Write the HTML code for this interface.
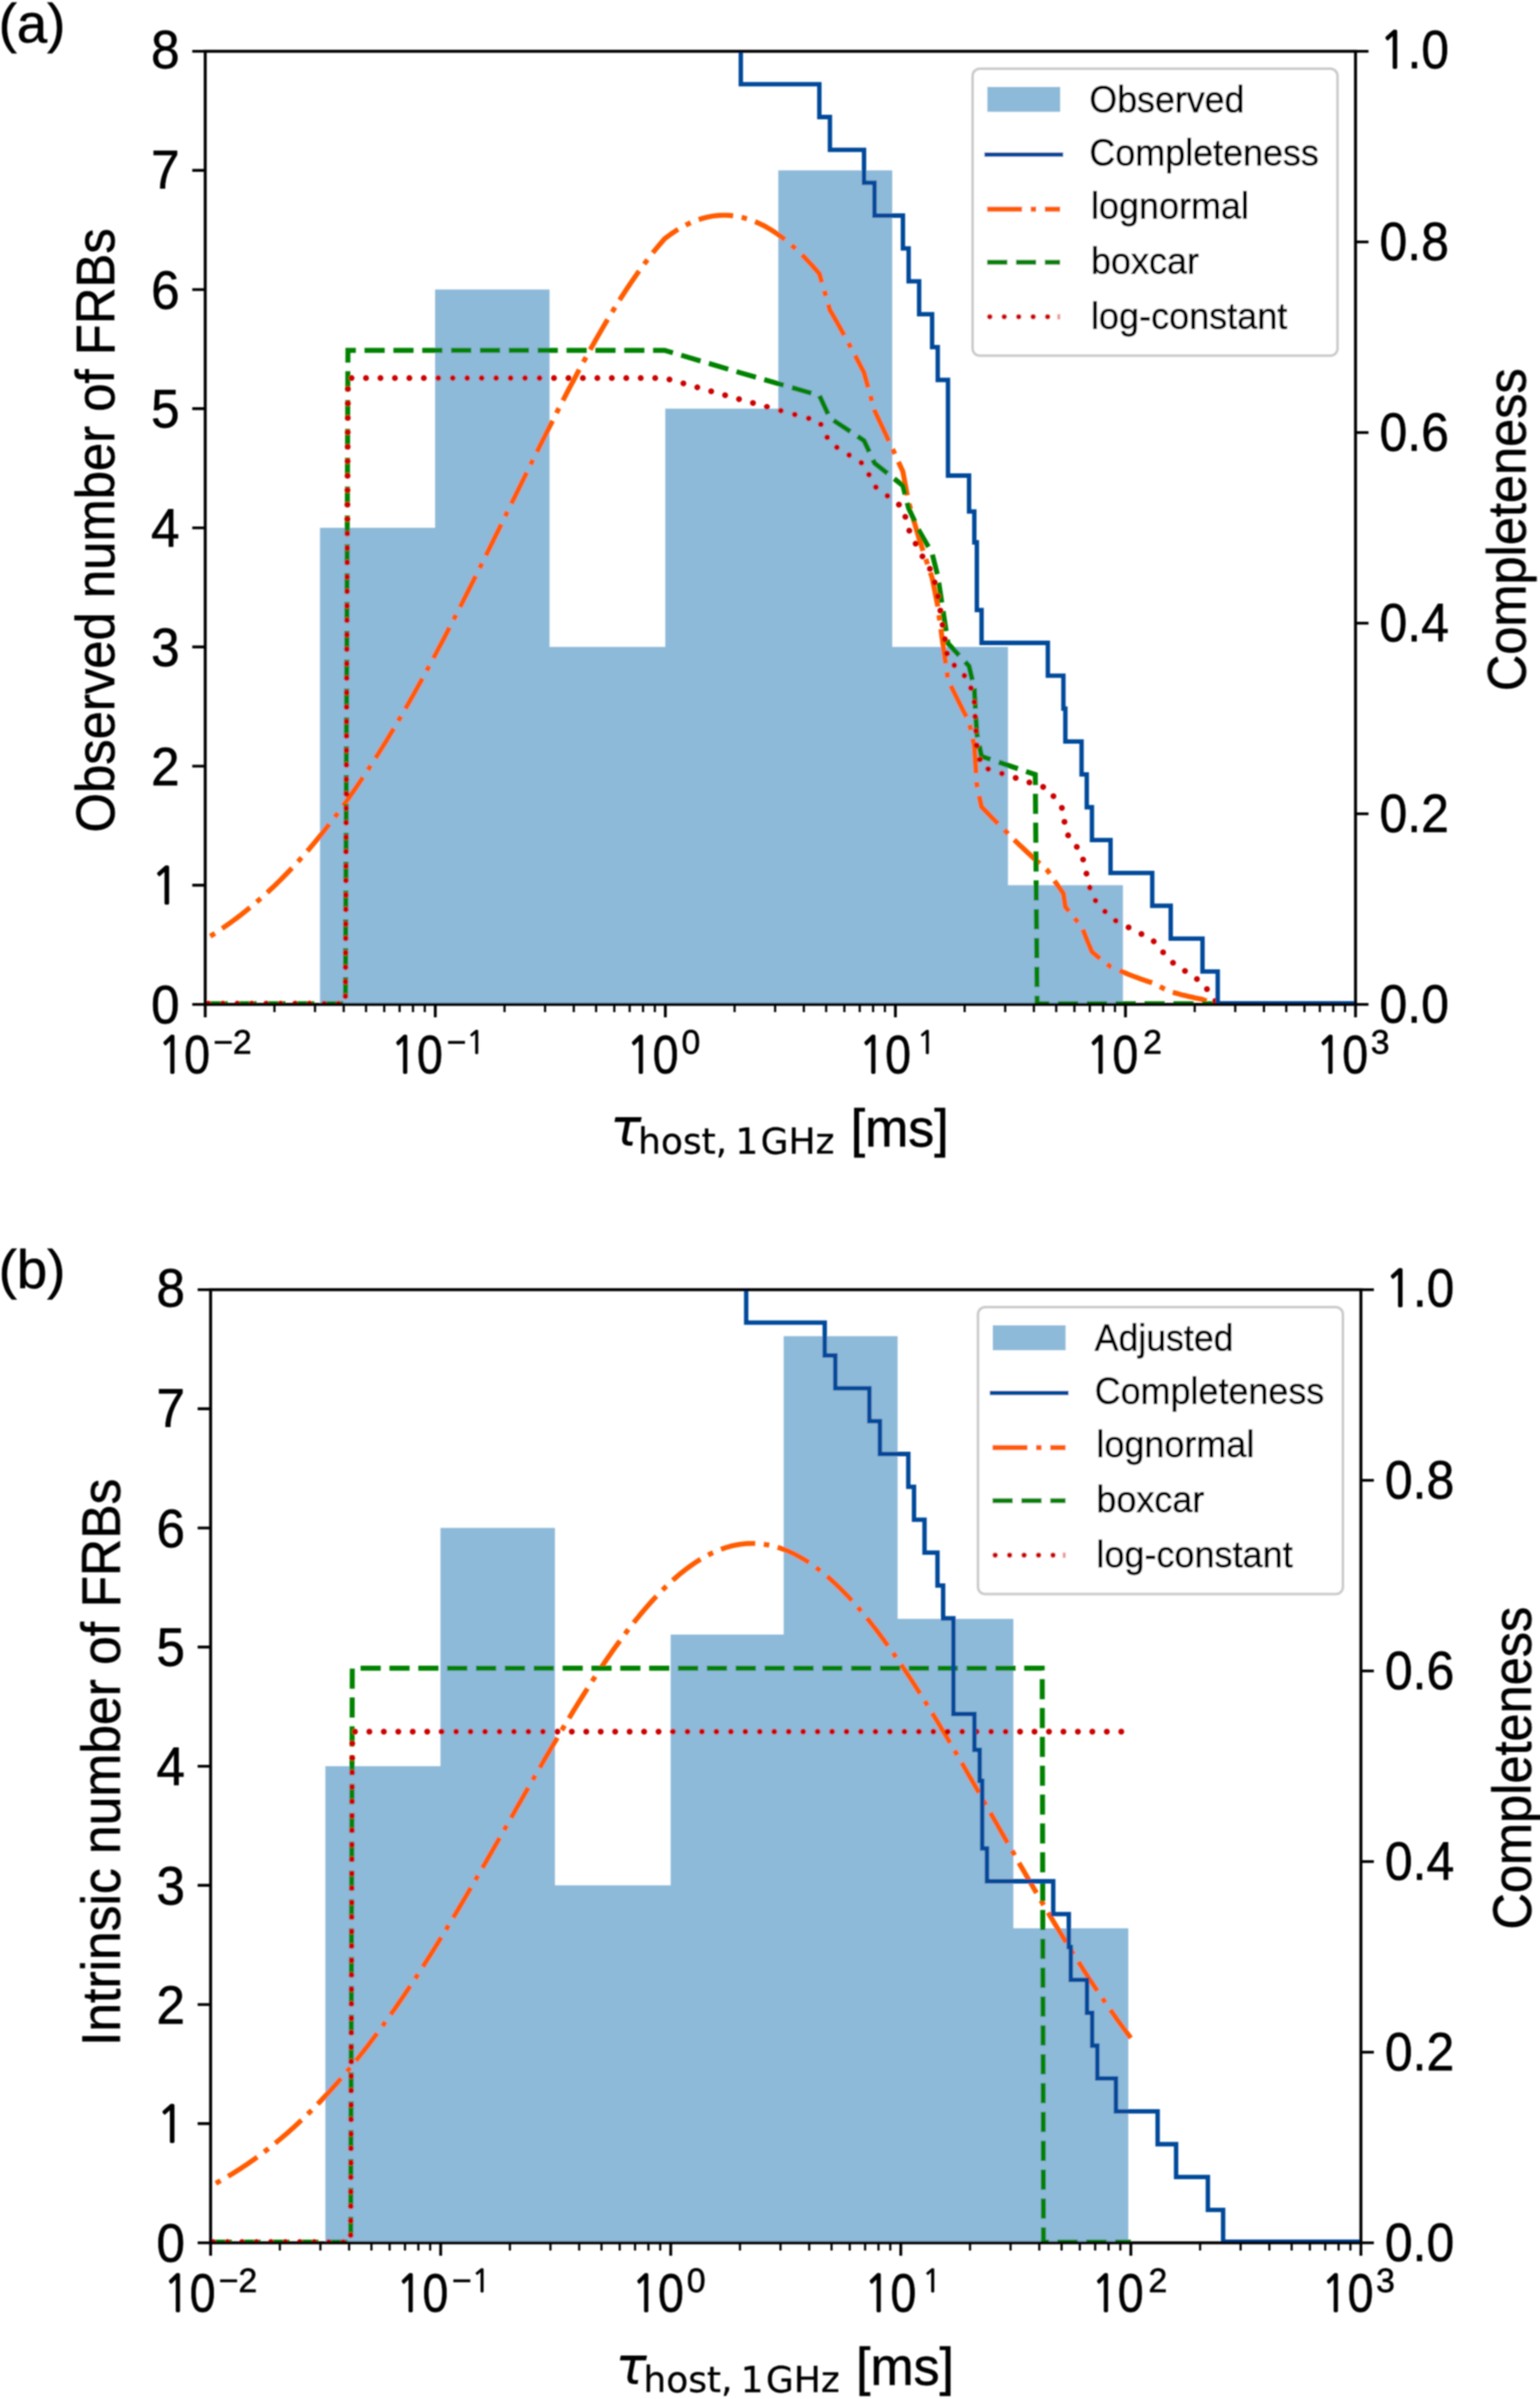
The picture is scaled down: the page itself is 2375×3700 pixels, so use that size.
<!DOCTYPE html>
<html><head><meta charset="utf-8"><title>Figure</title>
<style>html,body{margin:0;padding:0;background:#fff}svg{display:block}text{font-family:"Liberation Sans", sans-serif;fill:#000;stroke:#000;stroke-width:0.9px}</style>
</head><body>
<svg width="2375" height="3700" viewBox="0 0 2375 3700">
<defs><filter id="soft" x="0" y="0" width="100%" height="100%" filterUnits="userSpaceOnUse"><feGaussianBlur stdDeviation="1.3"/></filter><clipPath id="clipA"><rect x="316.5" y="79.1" width="1774.0" height="1470.0"/></clipPath></defs>
<rect width="2375" height="3700" fill="#fff"/>
<g filter="url(#soft)">
<text x="-2" y="64.5" font-size="84">(a)</text>
<text x="-2" y="1986.5" font-size="84">(b)</text>
<g>
<path d="M493.5,1549.1 L493.5,814.1 L671.0,814.1 L671.0,446.6 L847.5,446.6 L847.5,997.8 L1026.0,997.8 L1026.0,630.3 L1200.3,630.3 L1200.3,262.8 L1376.0,262.8 L1376.0,997.8 L1554.5,997.8 L1554.5,1365.3 L1731.8,1365.3 L1731.8,1549.1 Z" fill="#8EBAD9"/>
<g clip-path="url(#clipA)" fill="none" stroke-width="7.7" stroke-linejoin="miter">
<polyline points="316.5,1448.8 320.4,1446.4 324.3,1444.0 328.2,1441.5 332.2,1439.0 336.1,1436.4 340.0,1433.8 343.9,1431.1 347.8,1428.4 351.7,1425.7 355.6,1422.9 359.5,1420.0 363.5,1417.1 367.4,1414.2 371.3,1411.2 375.2,1408.1 379.1,1405.0 383.0,1401.8 386.9,1398.6 390.9,1395.4 394.8,1392.0 398.7,1388.7 402.6,1385.2 406.5,1381.7 410.4,1378.2 414.3,1374.6 418.3,1370.9 422.2,1367.2 426.1,1363.5 430.0,1359.6 433.9,1355.8 437.8,1351.8 441.7,1347.8 445.6,1343.8 449.6,1339.7 453.5,1335.5 457.4,1331.2 461.3,1327.0 465.2,1322.6 469.1,1318.2 473.0,1313.7 477.0,1309.2 480.9,1304.6 484.8,1299.9 488.7,1295.2 492.6,1290.4 496.5,1285.6 500.4,1280.7 504.3,1275.7 508.3,1270.7 512.2,1265.6 516.1,1260.5 520.0,1255.3 523.9,1250.0 527.8,1244.7 531.7,1239.3 535.7,1233.8 539.6,1228.3 543.5,1222.7 547.4,1217.1 551.3,1211.4 555.2,1205.7 559.1,1199.8 563.1,1194.0 567.0,1188.0 570.9,1182.0 574.8,1176.0 578.7,1169.9 582.6,1163.7 586.5,1157.5 590.4,1151.2 594.4,1144.9 598.3,1138.5 602.2,1132.0 606.1,1125.5 610.0,1119.0 613.9,1112.3 617.8,1105.7 621.8,1099.0 625.7,1092.2 629.6,1085.4 633.5,1078.5 637.4,1071.6 641.3,1064.6 645.2,1057.6 649.2,1050.5 653.1,1043.4 657.0,1036.2 660.9,1029.0 664.8,1021.8 668.7,1014.5 672.6,1007.2 676.5,999.8 680.5,992.4 684.4,984.9 688.3,977.4 692.2,969.9 696.1,962.3 700.0,954.8 703.9,947.1 707.9,939.5 711.8,931.8 715.7,924.1 719.6,916.3 723.5,908.6 727.4,900.8 731.3,893.0 735.2,885.1 739.2,877.3 743.1,869.4 747.0,861.5 750.9,853.6 754.8,845.7 758.7,837.7 762.6,829.8 766.6,821.8 770.5,813.9 774.4,805.9 778.3,797.9 782.2,789.9 786.1,782.0 790.0,774.0 794.0,766.0 797.9,758.0 801.8,750.1 805.7,742.1 809.6,734.2 813.5,726.2 817.4,718.3 821.3,710.4 825.3,702.5 829.2,694.6 833.1,686.8 837.0,679.0 840.9,671.2 844.8,663.4 848.7,655.7 852.7,647.9 856.6,640.3 860.5,632.6 864.4,625.0 868.3,617.4 872.2,609.9 876.1,602.4 880.0,595.0 884.0,587.6 887.9,580.2 891.8,572.9 895.7,565.7 899.6,558.5 903.5,551.3 907.4,544.3 911.4,537.2 915.3,530.3 919.2,523.4 923.1,516.6 927.0,509.8 930.9,503.1 934.8,496.5 938.8,490.0 942.7,483.5 946.6,477.1 950.5,470.8 954.4,464.6 958.3,458.4 962.2,452.4 966.1,446.4 970.1,440.5 974.0,434.7 977.9,429.0 981.8,423.4 985.7,417.9 989.6,412.5 993.5,407.2 997.5,402.0 1001.4,396.9 1005.3,391.8 1009.2,386.9 1013.1,382.1 1017.0,377.5 1020.9,372.9 1024.8,368.4 1025.0,368.2 1028.8,365.4 1032.7,362.5 1036.6,359.7 1040.5,357.1 1044.4,354.6 1048.3,352.2 1052.2,350.0 1056.2,347.9 1060.1,345.9 1064.0,344.1 1067.9,342.3 1071.8,340.7 1075.7,339.3 1079.6,338.0 1083.6,336.8 1087.5,335.7 1091.4,334.8 1095.3,334.0 1099.2,333.3 1103.1,332.8 1107.0,332.4 1110.9,332.1 1114.9,332.0 1118.8,332.0 1122.7,332.2 1126.6,332.4 1130.5,332.9 1134.4,333.4 1138.3,334.1 1142.3,334.9 1142.5,335.0 1146.2,335.8 1150.1,336.9 1154.0,338.0 1157.9,339.3 1161.8,340.8 1165.7,342.4 1169.7,344.1 1173.6,345.9 1177.5,347.8 1181.4,349.9 1185.3,352.2 1189.2,354.5 1193.1,357.0 1197.0,359.6 1201.0,362.3 1204.9,365.2 1208.8,368.1 1212.7,371.2 1216.6,374.5 1220.5,377.8 1224.4,381.3 1228.4,384.8 1232.3,388.5 1236.2,392.4 1240.1,396.3 1244.0,400.3 1247.9,404.5 1251.8,408.7 1255.7,413.1 1259.7,417.6 1263.6,422.2 1263.6,422.2 1267.5,435.5 1271.4,448.9 1275.3,462.3 1279.2,475.8 1279.9,478.1 1283.1,483.7 1287.1,490.5 1291.0,497.3 1294.9,504.3 1298.8,511.3 1302.7,518.4 1306.6,525.6 1310.5,532.8 1314.5,540.2 1318.4,547.5 1322.3,555.0 1326.2,562.5 1330.1,570.0 1332.5,574.7 1334.0,580.2 1337.9,594.3 1341.8,608.4 1345.8,622.5 1348.7,633.1 1349.7,635.2 1353.6,643.5 1357.5,651.8 1361.4,660.1 1365.3,668.5 1369.2,677.0 1373.2,685.4 1377.1,693.9 1381.0,702.4 1384.9,710.9 1388.8,719.4 1392.5,727.5 1392.7,728.7 1396.6,749.8 1400.5,770.8 1401.3,774.8 1404.5,785.9 1408.4,799.6 1412.3,813.2 1416.2,826.7 1417.5,831.1 1420.1,839.0 1424.0,850.9 1427.9,862.6 1431.9,874.3 1435.8,885.9 1437.5,891.0 1439.7,902.1 1443.6,921.8 1446.2,934.8 1447.5,944.5 1451.4,973.1 1455.3,1001.4 1459.3,1029.3 1462.0,1048.7 1463.2,1051.1 1467.1,1059.1 1471.0,1067.0 1474.9,1074.9 1478.8,1082.7 1482.7,1090.4 1486.6,1098.2 1490.6,1105.8 1494.5,1113.4 1494.5,1113.5 1498.4,1131.3 1502.3,1149.1 1502.6,1150.4 1506.2,1206.3 1506.5,1210.6 1510.1,1227.6 1513.8,1244.5 1514.0,1244.7 1518.0,1248.8 1521.9,1252.8 1525.8,1256.9 1529.7,1260.9 1533.6,1264.9 1537.5,1268.8 1541.4,1272.8 1545.3,1276.7 1549.3,1280.6 1553.2,1284.5 1557.1,1288.3 1561.0,1292.2 1564.9,1296.0 1568.8,1299.8 1572.7,1303.5 1576.7,1307.2 1580.6,1310.9 1584.5,1314.6 1588.4,1318.2 1592.3,1321.9 1596.2,1325.4 1600.1,1329.0 1604.1,1332.5 1608.0,1336.0 1611.9,1339.5 1615.8,1342.9 1616.0,1343.1 1619.7,1348.7 1623.6,1354.6 1627.5,1360.3 1631.4,1366.0 1635.4,1371.5 1639.3,1377.0 1640.0,1378.0 1643.0,1398.6 1643.2,1398.8 1647.1,1403.7 1651.0,1408.6 1654.9,1413.3 1658.8,1418.0 1662.8,1422.6 1666.7,1427.1 1668.0,1428.6 1670.6,1435.2 1674.5,1445.0 1676.0,1448.8 1678.4,1454.6 1682.3,1464.0 1684.0,1467.9 1686.2,1469.9 1690.2,1473.2 1694.1,1476.4 1698.0,1479.6 1701.9,1482.7 1705.8,1485.8 1709.7,1488.7 1712.7,1491.0 1713.6,1491.4 1717.5,1493.1 1721.5,1494.9 1725.4,1496.5 1729.3,1498.2 1733.2,1499.8 1737.1,1501.4 1741.0,1503.0 1744.9,1504.5 1748.9,1506.0 1752.8,1507.4 1756.7,1508.9 1760.6,1510.3 1764.5,1511.6 1768.4,1513.0 1772.3,1514.3 1776.2,1515.5 1777.0,1515.8 1780.2,1517.4 1784.1,1519.5 1788.0,1521.4 1791.9,1523.3 1795.8,1525.2 1799.7,1527.0 1803.6,1528.7 1805.5,1529.6 1807.6,1530.1 1811.5,1531.2 1815.4,1532.3 1819.3,1533.4 1823.2,1534.4 1827.1,1535.3 1831.0,1536.3 1835.0,1537.2 1838.9,1538.1 1842.8,1539.0 1846.7,1539.8 1850.6,1540.6 1854.5,1541.4 1854.5,1541.4 1858.4,1542.8 1862.3,1544.1 1866.3,1545.5 1870.2,1546.7 1874.1,1547.9 1878.0,1549.1 2090.5,1548.1" stroke="#FF5C00" stroke-dasharray="53.8 13.4 8.4 13.4" stroke-dashoffset="58"/>
<polyline points="316.5,1548.1 532.7,1548.1 536.6,540.3 1025.0,540.3 1142.5,575.1 1263.6,609.9 1279.9,644.7 1332.5,679.5 1348.7,714.2 1392.5,749.0 1401.3,783.8 1417.5,818.6 1437.5,853.4 1446.2,888.2 1462.0,992.5 1494.5,1027.3 1502.6,1062.1 1506.5,1131.7 1513.8,1166.5 1596.6,1194.6 1599.5,1548.1 2090.5,1548.1" stroke="#068206" stroke-dasharray="31.1 13.4" stroke-dashoffset="-3.6"/>
<polyline points="316.5,1548.1 532.7,1548.1 536.6,583.1 1025.0,583.1 1142.5,616.4 1263.6,649.7 1279.9,683.1 1332.5,716.4 1348.7,749.7 1392.5,783.0 1401.3,816.3 1417.5,849.6 1437.5,882.9 1446.2,916.2 1462.0,1016.1 1494.5,1049.5 1502.6,1082.8 1506.5,1149.4 1513.8,1182.7 1616.0,1216.0 1640.0,1249.3 1643.0,1282.6 1668.0,1315.9 1676.0,1349.2 1684.0,1382.6 1712.7,1415.9 1777.0,1449.2 1805.5,1482.5 1854.5,1515.8 1878.0,1549.1 2090.5,1548.1" stroke="#CC0000" stroke-width="9" stroke-linecap="round" stroke-dasharray="0.1 22.2" stroke-dashoffset="-4.8"/>
<polyline points="1142.5,79.1 1142.5,129.8 1263.6,129.8 1263.6,180.5 1279.9,180.5 1279.9,231.2 1332.5,231.2 1332.5,281.9 1348.7,281.9 1348.7,332.5 1392.5,332.5 1392.5,383.2 1401.3,383.2 1401.3,433.9 1417.5,433.9 1417.5,484.6 1437.5,484.6 1437.5,535.3 1446.2,535.3 1446.2,586.0 1462.0,586.0 1462.0,733.5 1494.5,733.5 1494.5,788.8 1502.6,788.8 1502.6,836.5 1506.5,836.5 1506.5,940.8 1513.8,940.8 1513.8,991.5 1616.0,991.5 1616.0,1042.2 1640.0,1042.2 1640.0,1092.9 1643.0,1092.9 1643.0,1143.6 1668.0,1143.6 1668.0,1194.3 1676.0,1194.3 1676.0,1245.0 1684.0,1245.0 1684.0,1295.7 1712.7,1295.7 1712.7,1346.3 1777.0,1346.3 1777.0,1397.0 1805.5,1397.0 1805.5,1447.7 1854.5,1447.7 1854.5,1498.4 1878.0,1498.4 1878.0,1547.5 2090.5,1547.5" stroke="#004A9A" stroke-width="6.8"/>
</g>
<rect x="316.5" y="79.1" width="1774.0" height="1470.0" fill="none" stroke="#000" stroke-width="4.6"/>
<path d="M316.5,1549.1h-20 M316.5,1365.3h-20 M316.5,1181.6h-20 M316.5,997.8h-20 M316.5,814.1h-20 M316.5,630.3h-20 M316.5,446.6h-20 M316.5,262.8h-20 M316.5,79.1h-20 M2090.5,79.1h20 M2090.5,373.1h20 M2090.5,667.1h20 M2090.5,961.1h20 M2090.5,1255.1h20 M2090.5,1549.1h20 M316.5,1549.1v20 M671.3,1549.1v20 M1026.1,1549.1v20 M1380.9,1549.1v20 M1735.7,1549.1v20 M2090.5,1549.1v20" stroke="#000" stroke-width="4.4" fill="none"/>
<path d="M423.3,1549.1v12 M485.8,1549.1v12 M530.1,1549.1v12 M564.5,1549.1v12 M592.6,1549.1v12 M616.3,1549.1v12 M636.9,1549.1v12 M655.1,1549.1v12 M778.1,1549.1v12 M840.6,1549.1v12 M884.9,1549.1v12 M919.3,1549.1v12 M947.4,1549.1v12 M971.1,1549.1v12 M991.7,1549.1v12 M1009.9,1549.1v12 M1132.9,1549.1v12 M1195.4,1549.1v12 M1239.7,1549.1v12 M1274.1,1549.1v12 M1302.2,1549.1v12 M1325.9,1549.1v12 M1346.5,1549.1v12 M1364.7,1549.1v12 M1487.7,1549.1v12 M1550.2,1549.1v12 M1594.5,1549.1v12 M1628.9,1549.1v12 M1657.0,1549.1v12 M1680.7,1549.1v12 M1701.3,1549.1v12 M1719.5,1549.1v12 M1842.5,1549.1v12 M1905.0,1549.1v12 M1949.3,1549.1v12 M1983.7,1549.1v12 M2011.8,1549.1v12 M2035.5,1549.1v12 M2056.1,1549.1v12 M2074.3,1549.1v12" stroke="#000" stroke-width="3.4" fill="none"/>
<text x="277" y="1578.1" font-size="84" text-anchor="end" textLength="44" lengthAdjust="spacingAndGlyphs">0</text>
<text x="277" y="1394.3" font-size="84" text-anchor="end" textLength="44" lengthAdjust="spacingAndGlyphs"><tspan style="font-family:NanumGothic,'Liberation Sans',sans-serif;stroke-width:2.3px;font-size:78.1px">1</tspan></text>
<text x="277" y="1210.6" font-size="84" text-anchor="end" textLength="44" lengthAdjust="spacingAndGlyphs">2</text>
<text x="277" y="1026.8" font-size="84" text-anchor="end" textLength="44" lengthAdjust="spacingAndGlyphs">3</text>
<text x="277" y="843.1" font-size="84" text-anchor="end" textLength="44" lengthAdjust="spacingAndGlyphs">4</text>
<text x="277" y="659.3" font-size="84" text-anchor="end" textLength="44" lengthAdjust="spacingAndGlyphs">5</text>
<text x="277" y="475.6" font-size="84" text-anchor="end" textLength="44" lengthAdjust="spacingAndGlyphs">6</text>
<text x="277" y="289.8" font-size="84" text-anchor="end" textLength="44" lengthAdjust="spacingAndGlyphs">7</text>
<text x="277" y="104.6" font-size="84" text-anchor="end" textLength="44" lengthAdjust="spacingAndGlyphs">8</text>
<text x="2127.5" y="105.1" font-size="84" textLength="107" lengthAdjust="spacingAndGlyphs"><tspan style="font-family:NanumGothic,'Liberation Sans',sans-serif;stroke-width:2.3px;font-size:78.1px">1</tspan>.0</text>
<text x="2127.5" y="400.6" font-size="84" textLength="107" lengthAdjust="spacingAndGlyphs">0.8</text>
<text x="2127.5" y="694.6" font-size="84" textLength="107" lengthAdjust="spacingAndGlyphs">0.6</text>
<text x="2127.5" y="988.6" font-size="84" textLength="107" lengthAdjust="spacingAndGlyphs">0.4</text>
<text x="2127.5" y="1282.6" font-size="84" textLength="107" lengthAdjust="spacingAndGlyphs">0.2</text>
<text x="2127.5" y="1576.6" font-size="84" textLength="107" lengthAdjust="spacingAndGlyphs">0.0</text>
<text x="243.6" y="1655" font-size="84" textLength="80.5" lengthAdjust="spacingAndGlyphs"><tspan style="font-family:NanumGothic,'Liberation Sans',sans-serif;stroke-width:2.3px;font-size:78.1px">1</tspan>0</text>
<text x="329.0" y="1624.6" font-size="52">−2</text>
<text x="602.6" y="1655" font-size="84" textLength="80.5" lengthAdjust="spacingAndGlyphs"><tspan style="font-family:NanumGothic,'Liberation Sans',sans-serif;stroke-width:2.3px;font-size:78.1px">1</tspan>0</text>
<text x="688.7" y="1624.6" font-size="52">−<tspan style="font-family:NanumGothic,'Liberation Sans',sans-serif;stroke-width:1.4px;font-size:48.4px">1</tspan></text>
<text x="966.0" y="1655" font-size="84" textLength="80.5" lengthAdjust="spacingAndGlyphs"><tspan style="font-family:NanumGothic,'Liberation Sans',sans-serif;stroke-width:2.3px;font-size:78.1px">1</tspan>0</text>
<text x="1051.0" y="1624.6" font-size="52">0</text>
<text x="1324.5" y="1655" font-size="84" textLength="80.5" lengthAdjust="spacingAndGlyphs"><tspan style="font-family:NanumGothic,'Liberation Sans',sans-serif;stroke-width:2.3px;font-size:78.1px">1</tspan>0</text>
<text x="1414.0" y="1624.6" font-size="52"><tspan style="font-family:NanumGothic,'Liberation Sans',sans-serif;stroke-width:1.4px;font-size:48.4px">1</tspan></text>
<text x="1675.0" y="1655" font-size="84" textLength="80.5" lengthAdjust="spacingAndGlyphs"><tspan style="font-family:NanumGothic,'Liberation Sans',sans-serif;stroke-width:2.3px;font-size:78.1px">1</tspan>0</text>
<text x="1763.0" y="1624.6" font-size="52">2</text>
<text x="2029.5" y="1655" font-size="84" textLength="80.5" lengthAdjust="spacingAndGlyphs"><tspan style="font-family:NanumGothic,'Liberation Sans',sans-serif;stroke-width:2.3px;font-size:78.1px">1</tspan>0</text>
<text x="2114.0" y="1624.6" font-size="52">3</text>
<text x="941" y="1767" font-size="80" style="font-family:'DejaVu Sans', sans-serif;font-style:italic;stroke-width:0.2px">τ</text>
<text y="1779" font-size="55.5" style="font-family:'DejaVu Sans', sans-serif;stroke-width:0.4px"><tspan x="984">host,</tspan><tspan x="1134">1</tspan><tspan x="1173">GHz</tspan></text>
<text x="1312" y="1768" font-size="82" textLength="151" lengthAdjust="spacingAndGlyphs">[ms]</text>
<text transform="translate(176.4,818.0) rotate(-90)" font-size="84" text-anchor="middle" textLength="932" lengthAdjust="spacingAndGlyphs">Observed number of FRBs</text>
<text transform="translate(2352.5,817) rotate(-90)" font-size="84" text-anchor="middle" textLength="498" lengthAdjust="spacingAndGlyphs">Completeness</text>
<rect x="1500.0" y="106.0" width="562.7" height="442.6" rx="11" fill="#fff" fill-opacity="0.8" stroke="#cbcbcb" stroke-width="4"/>
<rect x="1522.7" y="134" width="112.4" height="38.5" fill="#8EBAD9"/>
<path d="M1518.2,238.4H1639.6" stroke="#004A9A" stroke-width="6.8"/>
<path d="M1522.4,322.7H1635" stroke="#FF5C00" stroke-width="7.7" stroke-dasharray="53.8 13.4 8.4 13.4"/>
<path d="M1522.4,404.5H1635" stroke="#068206" stroke-width="7.7" stroke-dasharray="31.1 13.4"/>
<path d="M1522.4,488.6H1635" stroke="#CC0000" stroke-width="8.2" stroke-linecap="round" stroke-dasharray="0.1 22.2" stroke-dashoffset="-4"/>
<rect x="1630.6" y="484.5" width="4.6" height="8.2" fill="#CC0000" opacity="0.4"/>
<text x="1680.0" y="173.3" font-size="58" textLength="239.2" lengthAdjust="spacingAndGlyphs">Observed</text>
<text x="1680.0" y="255.4" font-size="58" textLength="354.0" lengthAdjust="spacingAndGlyphs">Completeness</text>
<text x="1682.5" y="337.3" font-size="58" textLength="243.7" lengthAdjust="spacingAndGlyphs">lognormal</text>
<text x="1682.5" y="422.0" font-size="58" textLength="166.5" lengthAdjust="spacingAndGlyphs">boxcar</text>
<text x="1682.5" y="506.5" font-size="58" textLength="302.8" lengthAdjust="spacingAndGlyphs">log-constant</text>
</g>
<g transform="translate(8.3,1910)">
<path d="M493.5,1549.1 L493.5,814.1 L671.0,814.1 L671.0,446.6 L847.5,446.6 L847.5,997.8 L1026.0,997.8 L1026.0,610.9 L1200.3,610.9 L1200.3,150.8 L1376.0,150.8 L1376.0,586.8 L1554.5,586.8 L1554.5,1064.0 L1731.8,1064.0 L1731.8,1549.1 Z" fill="#8EBAD9"/>
<g clip-path="url(#clipA)" fill="none" stroke-width="7.7" stroke-linejoin="miter">
<polyline points="316.5,1461.7 320.1,1459.8 323.6,1457.9 327.2,1455.9 330.8,1453.9 334.3,1451.9 337.9,1449.9 341.5,1447.8 345.0,1445.6 348.6,1443.5 352.2,1441.3 355.7,1439.1 359.3,1436.8 362.9,1434.5 366.4,1432.1 370.0,1429.8 373.6,1427.3 377.1,1424.9 380.7,1422.4 384.3,1419.9 387.8,1417.3 391.4,1414.7 395.0,1412.0 398.5,1409.4 402.1,1406.6 405.7,1403.9 409.2,1401.1 412.8,1398.2 416.4,1395.3 419.9,1392.4 423.5,1389.4 427.1,1386.4 430.6,1383.4 434.2,1380.3 437.8,1377.2 441.3,1374.0 444.9,1370.8 448.5,1367.5 452.0,1364.2 455.6,1360.8 459.2,1357.5 462.7,1354.0 466.3,1350.5 469.9,1347.0 473.4,1343.5 477.0,1339.9 480.6,1336.2 484.1,1332.5 487.7,1328.8 491.3,1325.0 494.8,1321.2 498.4,1317.3 502.0,1313.4 505.5,1309.4 509.1,1305.4 512.7,1301.4 516.2,1297.3 519.8,1293.2 523.4,1289.0 526.9,1284.8 530.5,1280.5 534.1,1276.2 537.6,1271.8 541.2,1267.4 544.8,1263.0 548.3,1258.5 551.9,1254.0 555.5,1249.4 559.1,1244.8 562.6,1240.1 566.2,1235.4 569.8,1230.7 573.3,1225.9 576.9,1221.1 580.5,1216.2 584.0,1211.3 587.6,1206.4 591.2,1201.4 594.7,1196.3 598.3,1191.3 601.9,1186.2 605.4,1181.0 609.0,1175.8 612.6,1170.6 616.1,1165.3 619.7,1160.0 623.3,1154.7 626.8,1149.3 630.4,1143.9 634.0,1138.5 637.5,1133.0 641.1,1127.5 644.7,1121.9 648.2,1116.3 651.8,1110.7 655.4,1105.1 658.9,1099.4 662.5,1093.7 666.1,1087.9 669.6,1082.2 673.2,1076.4 676.8,1070.5 680.3,1064.7 683.9,1058.8 687.5,1052.9 691.0,1047.0 694.6,1041.0 698.2,1035.0 701.7,1029.0 705.3,1023.0 708.9,1016.9 712.4,1010.9 716.0,1004.8 719.6,998.7 723.1,992.6 726.7,986.4 730.3,980.3 733.8,974.1 737.4,967.9 741.0,961.7 744.5,955.5 748.1,949.3 751.7,943.1 755.2,936.9 758.8,930.6 762.4,924.4 765.9,918.1 769.5,911.8 773.1,905.6 776.6,899.3 780.2,893.1 783.8,886.8 787.3,880.5 790.9,874.3 794.5,868.0 798.0,861.8 801.6,855.5 805.2,849.3 808.7,843.1 812.3,836.8 815.9,830.6 819.4,824.4 823.0,818.3 826.6,812.1 830.1,805.9 833.7,799.8 837.3,793.7 840.8,787.6 844.4,781.5 848.0,775.5 851.5,769.5 855.1,763.5 858.7,757.5 862.2,751.5 865.8,745.6 869.4,739.7 872.9,733.9 876.5,728.0 880.1,722.3 883.6,716.5 887.2,710.8 890.8,705.1 894.3,699.5 897.9,693.9 901.5,688.3 905.0,682.8 908.6,677.3 912.2,671.9 915.7,666.5 919.3,661.2 922.9,655.9 926.4,650.7 930.0,645.5 933.6,640.4 937.1,635.3 940.7,630.3 944.3,625.4 947.8,620.5 951.4,615.6 955.0,610.9 958.5,606.1 962.1,601.5 965.7,596.9 969.2,592.4 972.8,587.9 976.4,583.6 979.9,579.2 983.5,575.0 987.1,570.8 990.6,566.7 994.2,562.7 997.8,558.7 1001.3,554.8 1004.9,551.0 1008.5,547.3 1012.0,543.7 1015.6,540.1 1019.2,536.6 1022.7,533.2 1026.3,529.9 1029.9,526.6 1033.5,523.5 1037.0,520.4 1040.6,517.4 1044.2,514.5 1047.7,511.7 1051.3,509.0 1054.9,506.3 1058.4,503.8 1062.0,501.3 1065.6,498.9 1069.1,496.7 1072.7,494.5 1076.3,492.4 1079.8,490.4 1083.4,488.5 1087.0,486.7 1090.5,484.9 1094.1,483.3 1097.7,481.8 1101.2,480.3 1104.8,479.0 1108.4,477.8 1111.9,476.6 1115.5,475.6 1119.1,474.6 1122.6,473.8 1126.2,473.0 1129.8,472.4 1133.3,471.8 1136.9,471.3 1140.5,471.0 1144.0,470.7 1147.6,470.6 1151.2,470.5 1154.7,470.5 1158.3,470.7 1161.9,470.9 1165.4,471.2 1169.0,471.6 1172.6,472.2 1176.1,472.8 1179.7,473.5 1183.3,474.4 1186.8,475.3 1190.4,476.3 1194.0,477.4 1197.5,478.6 1201.1,479.9 1204.7,481.3 1208.2,482.8 1211.8,484.4 1215.4,486.1 1218.9,487.9 1222.5,489.8 1226.1,491.8 1229.6,493.8 1233.2,496.0 1236.8,498.2 1240.3,500.6 1243.9,503.0 1247.5,505.5 1251.0,508.2 1254.6,510.9 1258.2,513.6 1261.7,516.5 1265.3,519.5 1268.9,522.5 1272.4,525.7 1276.0,528.9 1279.6,532.2 1283.1,535.6 1286.7,539.0 1290.3,542.6 1293.8,546.2 1297.4,549.9 1301.0,553.7 1304.5,557.5 1308.1,561.5 1311.7,565.5 1315.2,569.6 1318.8,573.7 1322.4,577.9 1325.9,582.2 1329.5,586.6 1333.1,591.0 1336.6,595.5 1340.2,600.1 1343.8,604.7 1347.3,609.4 1350.9,614.2 1354.5,619.0 1358.0,623.9 1361.6,628.8 1365.2,633.8 1368.7,638.8 1372.3,644.0 1375.9,649.1 1379.4,654.3 1383.0,659.6 1386.6,664.9 1390.1,670.3 1393.7,675.7 1397.3,681.1 1400.8,686.6 1404.4,692.2 1408.0,697.8 1411.5,703.4 1415.1,709.1 1418.7,714.8 1422.2,720.5 1425.8,726.3 1429.4,732.1 1432.9,737.9 1436.5,743.8 1440.1,749.7 1443.6,755.7 1447.2,761.6 1450.8,767.6 1454.3,773.7 1457.9,779.7 1461.5,785.8 1465.0,791.8 1468.6,798.0 1472.2,804.1 1475.7,810.2 1479.3,816.4 1482.9,822.6 1486.4,828.8 1490.0,835.0 1493.6,841.2 1497.1,847.4 1500.7,853.6 1504.3,859.9 1507.9,866.1 1511.4,872.4 1515.0,878.6 1518.6,884.9 1522.1,891.2 1525.7,897.4 1529.3,903.7 1532.8,910.0 1536.4,916.2 1540.0,922.5 1543.5,928.7 1547.1,935.0 1550.7,941.2 1554.2,947.4 1557.8,953.6 1561.4,959.9 1564.9,966.1 1568.5,972.2 1572.1,978.4 1575.6,984.6 1579.2,990.7 1582.8,996.8 1586.3,1002.9 1589.9,1009.0 1593.5,1015.1 1597.0,1021.2 1600.6,1027.2 1604.2,1033.2 1607.7,1039.2 1611.3,1045.2 1614.9,1051.1 1618.4,1057.0 1622.0,1062.9 1625.6,1068.8 1629.1,1074.6 1632.7,1080.4 1636.3,1086.2 1639.8,1091.9 1643.4,1097.7 1647.0,1103.4 1650.5,1109.0 1654.1,1114.6 1657.7,1120.2 1661.2,1125.8 1664.8,1131.3 1668.4,1136.8 1671.9,1142.3 1675.5,1147.7 1679.1,1153.1 1682.6,1158.4 1686.2,1163.7 1689.8,1169.0 1693.3,1174.2 1696.9,1179.4 1700.5,1184.6 1704.0,1189.7 1707.6,1194.8 1711.2,1199.8 1714.7,1204.9 1718.3,1209.8 1721.9,1214.7 1725.4,1219.6 1729.0,1224.4 1732.6,1229.2 1736.1,1234.0 1739.7,1238.7" stroke="#FF5C00" stroke-dasharray="53.8 13.4 8.4 13.4" stroke-dashoffset="58"/>
<polyline points="316.5,1548.1 532.5,1548.1 535.0,662.9 1599.0,662.9 1601.0,1548.1 1735.7,1548.1" stroke="#068206" stroke-dasharray="31.1 13.4" stroke-dashoffset="-1.5"/>
<polyline points="316.5,1548.1 532.5,1548.1 535.0,760.8 1734.7,760.8" stroke="#CC0000" stroke-width="9" stroke-linecap="round" stroke-dasharray="0.1 22.2" stroke-dashoffset="-3.8"/>
<polyline points="1142.5,79.1 1142.5,129.8 1263.6,129.8 1263.6,180.5 1279.9,180.5 1279.9,231.2 1332.5,231.2 1332.5,281.9 1348.7,281.9 1348.7,332.5 1392.5,332.5 1392.5,383.2 1401.3,383.2 1401.3,433.9 1417.5,433.9 1417.5,484.6 1437.5,484.6 1437.5,535.3 1446.2,535.3 1446.2,586.0 1462.0,586.0 1462.0,733.5 1494.5,733.5 1494.5,788.8 1502.6,788.8 1502.6,836.5 1506.5,836.5 1506.5,940.8 1513.8,940.8 1513.8,991.5 1616.0,991.5 1616.0,1042.2 1640.0,1042.2 1640.0,1092.9 1643.0,1092.9 1643.0,1143.6 1668.0,1143.6 1668.0,1194.3 1676.0,1194.3 1676.0,1245.0 1684.0,1245.0 1684.0,1295.7 1712.7,1295.7 1712.7,1346.3 1777.0,1346.3 1777.0,1397.0 1805.5,1397.0 1805.5,1447.7 1854.5,1447.7 1854.5,1498.4 1878.0,1498.4 1878.0,1547.5 2090.5,1547.5" stroke="#004A9A" stroke-width="6.8"/>
</g>
<rect x="316.5" y="79.1" width="1774.0" height="1470.0" fill="none" stroke="#000" stroke-width="4.6"/>
<path d="M316.5,1549.1h-20 M316.5,1365.3h-20 M316.5,1181.6h-20 M316.5,997.8h-20 M316.5,814.1h-20 M316.5,630.3h-20 M316.5,446.6h-20 M316.5,262.8h-20 M316.5,79.1h-20 M2090.5,79.1h20 M2090.5,373.1h20 M2090.5,667.1h20 M2090.5,961.1h20 M2090.5,1255.1h20 M2090.5,1549.1h20 M316.5,1549.1v20 M671.3,1549.1v20 M1026.1,1549.1v20 M1380.9,1549.1v20 M1735.7,1549.1v20 M2090.5,1549.1v20" stroke="#000" stroke-width="4.4" fill="none"/>
<path d="M423.3,1549.1v12 M485.8,1549.1v12 M530.1,1549.1v12 M564.5,1549.1v12 M592.6,1549.1v12 M616.3,1549.1v12 M636.9,1549.1v12 M655.1,1549.1v12 M778.1,1549.1v12 M840.6,1549.1v12 M884.9,1549.1v12 M919.3,1549.1v12 M947.4,1549.1v12 M971.1,1549.1v12 M991.7,1549.1v12 M1009.9,1549.1v12 M1132.9,1549.1v12 M1195.4,1549.1v12 M1239.7,1549.1v12 M1274.1,1549.1v12 M1302.2,1549.1v12 M1325.9,1549.1v12 M1346.5,1549.1v12 M1364.7,1549.1v12 M1487.7,1549.1v12 M1550.2,1549.1v12 M1594.5,1549.1v12 M1628.9,1549.1v12 M1657.0,1549.1v12 M1680.7,1549.1v12 M1701.3,1549.1v12 M1719.5,1549.1v12 M1842.5,1549.1v12 M1905.0,1549.1v12 M1949.3,1549.1v12 M1983.7,1549.1v12 M2011.8,1549.1v12 M2035.5,1549.1v12 M2056.1,1549.1v12 M2074.3,1549.1v12" stroke="#000" stroke-width="3.4" fill="none"/>
<text x="277" y="1578.1" font-size="84" text-anchor="end" textLength="44" lengthAdjust="spacingAndGlyphs">0</text>
<text x="277" y="1394.3" font-size="84" text-anchor="end" textLength="44" lengthAdjust="spacingAndGlyphs"><tspan style="font-family:NanumGothic,'Liberation Sans',sans-serif;stroke-width:2.3px;font-size:78.1px">1</tspan></text>
<text x="277" y="1210.6" font-size="84" text-anchor="end" textLength="44" lengthAdjust="spacingAndGlyphs">2</text>
<text x="277" y="1026.8" font-size="84" text-anchor="end" textLength="44" lengthAdjust="spacingAndGlyphs">3</text>
<text x="277" y="843.1" font-size="84" text-anchor="end" textLength="44" lengthAdjust="spacingAndGlyphs">4</text>
<text x="277" y="659.3" font-size="84" text-anchor="end" textLength="44" lengthAdjust="spacingAndGlyphs">5</text>
<text x="277" y="475.6" font-size="84" text-anchor="end" textLength="44" lengthAdjust="spacingAndGlyphs">6</text>
<text x="277" y="289.8" font-size="84" text-anchor="end" textLength="44" lengthAdjust="spacingAndGlyphs">7</text>
<text x="277" y="104.6" font-size="84" text-anchor="end" textLength="44" lengthAdjust="spacingAndGlyphs">8</text>
<text x="2127.5" y="105.1" font-size="84" textLength="107" lengthAdjust="spacingAndGlyphs"><tspan style="font-family:NanumGothic,'Liberation Sans',sans-serif;stroke-width:2.3px;font-size:78.1px">1</tspan>.0</text>
<text x="2127.5" y="400.6" font-size="84" textLength="107" lengthAdjust="spacingAndGlyphs">0.8</text>
<text x="2127.5" y="694.6" font-size="84" textLength="107" lengthAdjust="spacingAndGlyphs">0.6</text>
<text x="2127.5" y="988.6" font-size="84" textLength="107" lengthAdjust="spacingAndGlyphs">0.4</text>
<text x="2127.5" y="1282.6" font-size="84" textLength="107" lengthAdjust="spacingAndGlyphs">0.2</text>
<text x="2127.5" y="1576.6" font-size="84" textLength="107" lengthAdjust="spacingAndGlyphs">0.0</text>
<text x="243.6" y="1655" font-size="84" textLength="80.5" lengthAdjust="spacingAndGlyphs"><tspan style="font-family:NanumGothic,'Liberation Sans',sans-serif;stroke-width:2.3px;font-size:78.1px">1</tspan>0</text>
<text x="329.0" y="1624.6" font-size="52">−2</text>
<text x="602.6" y="1655" font-size="84" textLength="80.5" lengthAdjust="spacingAndGlyphs"><tspan style="font-family:NanumGothic,'Liberation Sans',sans-serif;stroke-width:2.3px;font-size:78.1px">1</tspan>0</text>
<text x="688.7" y="1624.6" font-size="52">−<tspan style="font-family:NanumGothic,'Liberation Sans',sans-serif;stroke-width:1.4px;font-size:48.4px">1</tspan></text>
<text x="966.0" y="1655" font-size="84" textLength="80.5" lengthAdjust="spacingAndGlyphs"><tspan style="font-family:NanumGothic,'Liberation Sans',sans-serif;stroke-width:2.3px;font-size:78.1px">1</tspan>0</text>
<text x="1051.0" y="1624.6" font-size="52">0</text>
<text x="1324.5" y="1655" font-size="84" textLength="80.5" lengthAdjust="spacingAndGlyphs"><tspan style="font-family:NanumGothic,'Liberation Sans',sans-serif;stroke-width:2.3px;font-size:78.1px">1</tspan>0</text>
<text x="1414.0" y="1624.6" font-size="52"><tspan style="font-family:NanumGothic,'Liberation Sans',sans-serif;stroke-width:1.4px;font-size:48.4px">1</tspan></text>
<text x="1675.0" y="1655" font-size="84" textLength="80.5" lengthAdjust="spacingAndGlyphs"><tspan style="font-family:NanumGothic,'Liberation Sans',sans-serif;stroke-width:2.3px;font-size:78.1px">1</tspan>0</text>
<text x="1763.0" y="1624.6" font-size="52">2</text>
<text x="2029.5" y="1655" font-size="84" textLength="80.5" lengthAdjust="spacingAndGlyphs"><tspan style="font-family:NanumGothic,'Liberation Sans',sans-serif;stroke-width:2.3px;font-size:78.1px">1</tspan>0</text>
<text x="2114.0" y="1624.6" font-size="52">3</text>
<text x="941" y="1767" font-size="80" style="font-family:'DejaVu Sans', sans-serif;font-style:italic;stroke-width:0.2px">τ</text>
<text y="1779" font-size="55.5" style="font-family:'DejaVu Sans', sans-serif;stroke-width:0.4px"><tspan x="984">host,</tspan><tspan x="1134">1</tspan><tspan x="1173">GHz</tspan></text>
<text x="1312" y="1768" font-size="82" textLength="151" lengthAdjust="spacingAndGlyphs">[ms]</text>
<text transform="translate(176.4,808.0) rotate(-90)" font-size="84" text-anchor="middle" textLength="875" lengthAdjust="spacingAndGlyphs">Intrinsic number of FRBs</text>
<text transform="translate(2352.5,817) rotate(-90)" font-size="84" text-anchor="middle" textLength="498" lengthAdjust="spacingAndGlyphs">Completeness</text>
<rect x="1500.0" y="106.0" width="562.7" height="442.6" rx="11" fill="#fff" fill-opacity="0.8" stroke="#cbcbcb" stroke-width="4"/>
<rect x="1522.7" y="134" width="112.4" height="38.5" fill="#8EBAD9"/>
<path d="M1518.2,238.4H1639.6" stroke="#004A9A" stroke-width="6.8"/>
<path d="M1522.4,322.7H1635" stroke="#FF5C00" stroke-width="7.7" stroke-dasharray="53.8 13.4 8.4 13.4"/>
<path d="M1522.4,404.5H1635" stroke="#068206" stroke-width="7.7" stroke-dasharray="31.1 13.4"/>
<path d="M1522.4,488.6H1635" stroke="#CC0000" stroke-width="8.2" stroke-linecap="round" stroke-dasharray="0.1 22.2" stroke-dashoffset="-4"/>
<rect x="1630.6" y="484.5" width="4.6" height="8.2" fill="#CC0000" opacity="0.4"/>
<text x="1680.0" y="173.3" font-size="58" textLength="214.0" lengthAdjust="spacingAndGlyphs">Adjusted</text>
<text x="1680.0" y="255.4" font-size="58" textLength="354.0" lengthAdjust="spacingAndGlyphs">Completeness</text>
<text x="1682.5" y="337.3" font-size="58" textLength="243.7" lengthAdjust="spacingAndGlyphs">lognormal</text>
<text x="1682.5" y="422.0" font-size="58" textLength="166.5" lengthAdjust="spacingAndGlyphs">boxcar</text>
<text x="1682.5" y="506.5" font-size="58" textLength="302.8" lengthAdjust="spacingAndGlyphs">log-constant</text>
</g>
</g>
</svg>
</body></html>
